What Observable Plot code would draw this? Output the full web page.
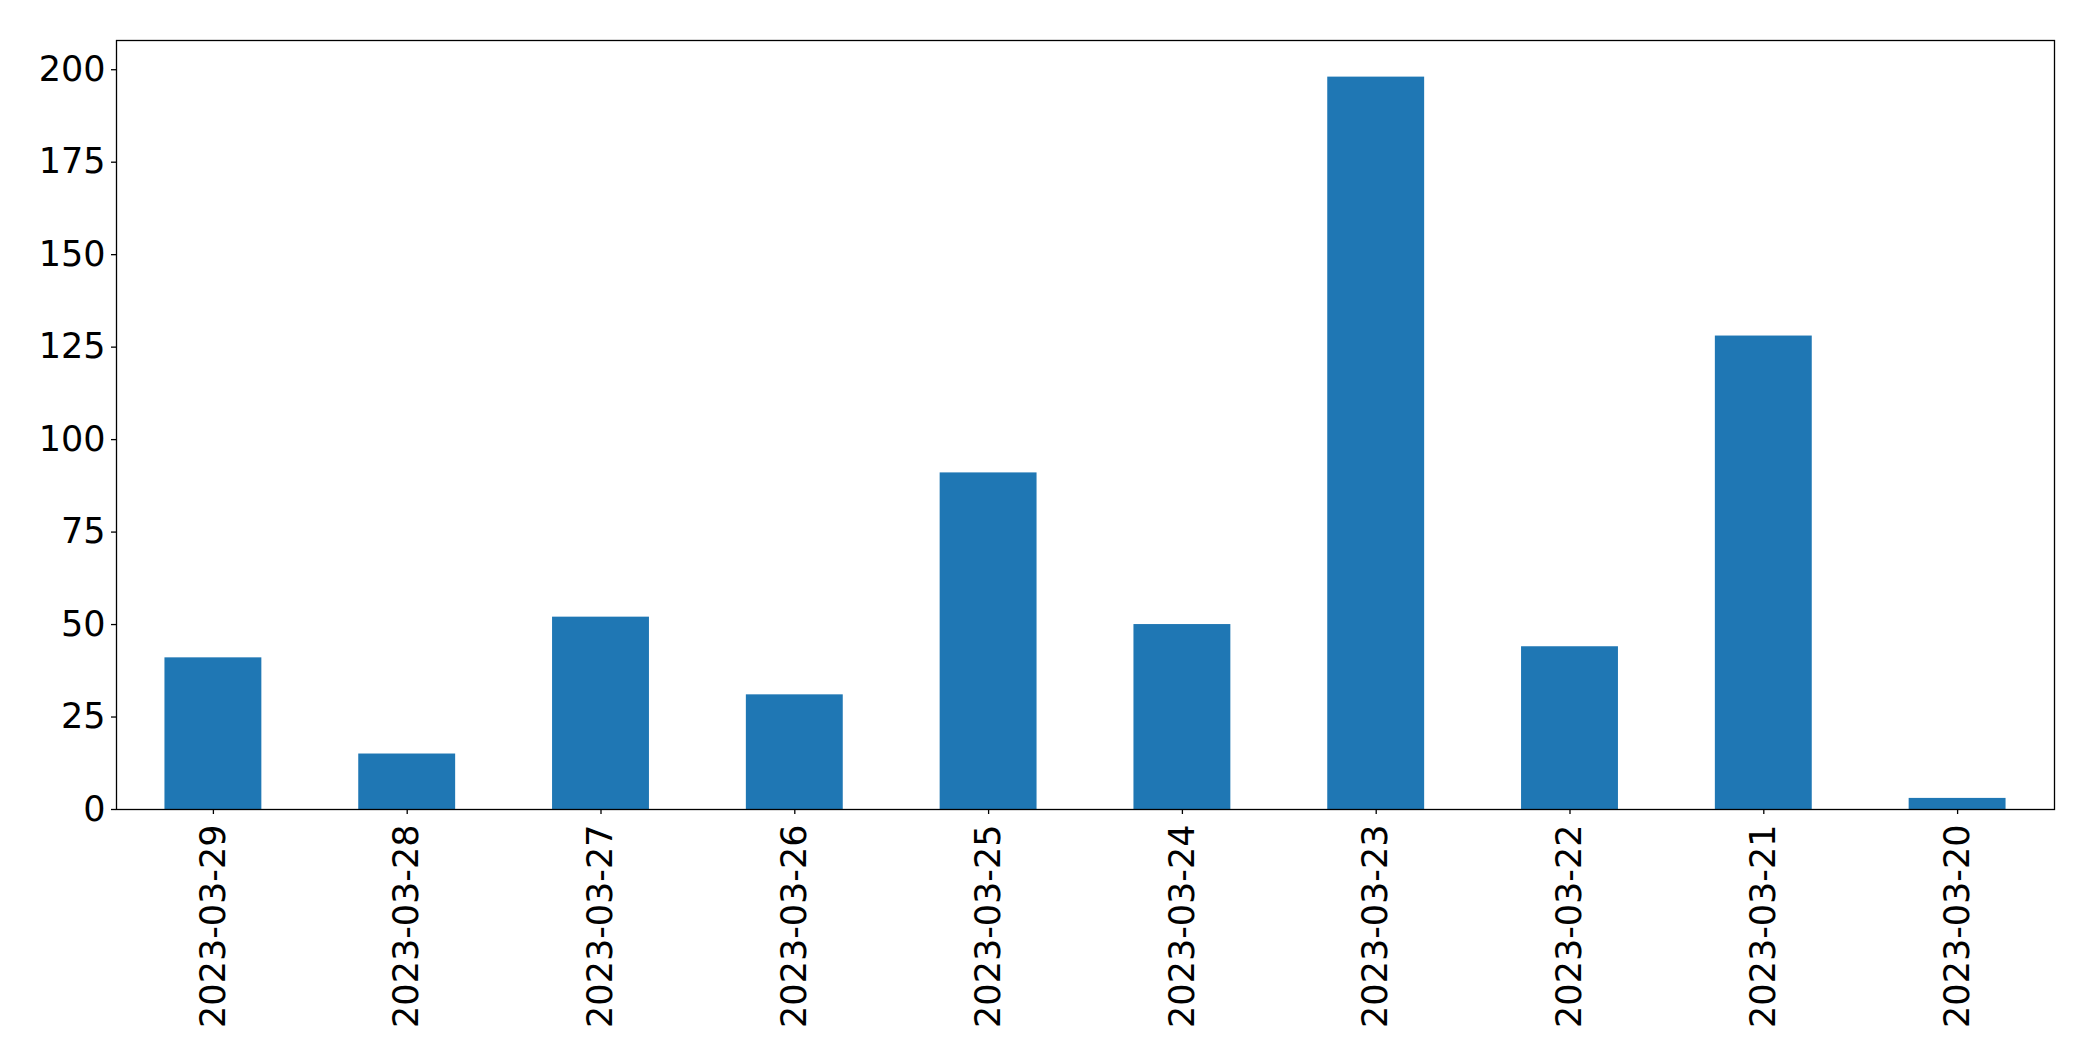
<!DOCTYPE html>
<html>
<head>
<meta charset="utf-8">
<script src="https://cdn.jsdelivr.net/npm/d3@7"></script>
<script src="https://cdn.jsdelivr.net/npm/@observablehq/plot@0.6"></script>
<style>
  html, body { margin: 0; padding: 0; background: white; }
  #chart svg { display: block; }
</style>
</head>
<body>
<div id="chart"></div>
<script>
const dates = ["2023-03-29","2023-03-28","2023-03-27","2023-03-26","2023-03-25","2023-03-24","2023-03-23","2023-03-22","2023-03-21","2023-03-20"];
const counts = [41, 15, 52, 31, 91, 50, 198, 44, 128, 3];
const yTicks = [0, 25, 50, 75, 100, 125, 150, 175, 200];

const data = dates.map((d, i) => ({date: d, count: counts[i]}));

const chart = Plot.plot({
  width: 2093,
  height: 1061,
  marginLeft: 116,
  marginRight: 39,
  marginTop: 40,
  marginBottom: 252,
  style: {fontFamily: "'DejaVu Sans', sans-serif", fontSize: "35px", color: "black", background: "white"},
  x: {domain: dates, paddingInner: 0.5, paddingOuter: 0.25, align: 0.5, round: false, label: null},
  y: {domain: [0, d3.max(counts) * 1.05], label: null},
  marks: [
    Plot.barY(data, {x: "date", y: "count", fill: "#1f77b4"}),
    Plot.axisY({ticks: yTicks, tickSize: 5, tickPadding: 6, fontSize: 35, label: null, stroke: "black", strokeWidth: 1.3, fill: "black"}),
    Plot.axisX({tickRotate: -90, tickSize: 5, tickPadding: 10, fontSize: 35, label: null, stroke: "black", strokeWidth: 1.3, fill: "black"}),
    Plot.frame({stroke: "black", strokeWidth: 1.3})
  ]
});
document.getElementById("chart").appendChild(chart);
</script>
</body>
</html>
